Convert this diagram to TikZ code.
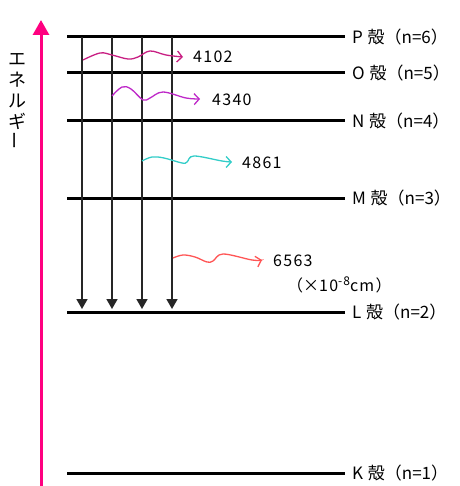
\documentclass[tikz,border=0pt]{standalone}
\usepackage{fontspec}
\setmainfont{Noto Sans CJK JP}
\usetikzlibrary{arrows.meta}
\definecolor{pinkE}{RGB}{255,0,128}
\definecolor{cA}{RGB}{200,30,130}
\definecolor{cB}{RGB}{190,40,200}
\definecolor{cC}{RGB}{50,205,200}
\definecolor{cD}{RGB}{255,85,85}
\begin{document}
\begin{tikzpicture}[x=1pt,y=-1pt,
  level/.style={line width=3pt, black},
  trans/.style={line width=1.7pt, black!85, -{Triangle[width=11pt,length=10pt]}},
  wave/.style={line width=1.3pt, -{Straight Barb[length=5pt,width=11pt]}},
  lbl/.style={anchor=west, font=\fontsize{17}{17}\selectfont, inner sep=0},
  num/.style={anchor=west, font=\fontsize{16}{16}\selectfont\addfontfeatures{LetterSpace=8}, inner sep=0}]
\useasboundingbox (0,0) rectangle (459,486);
% energy axis
\coordinate (eb) at (41,486);
\coordinate (et) at (41,20);
\draw[line width=3pt, pinkE, -{Triangle[width=16pt,length=15pt]}] (eb) -- (et);
\node (ene) at (18,101) [align=center, inner sep=0, font=\fontsize{18}{21}\selectfont] {エ\\ネ\\ル\\ギ\\\rotatebox{90}{ー}};
% levels
\foreach \n/\y/\t in {P/37/{P\;殻（n=6）}, O/73/{O\;殻（n=5）}, N/121/{N\;殻（n=4）}, M/198/{M\;殻（n=3）}, L/312/{L\;殻（n=2）}, K/473/{K\;殻（n=1）}}{
  \coordinate (\n a) at (67,\y);
  \coordinate (\n b) at (345,\y);
  \draw[level] (\n a) -- (\n b);
  \node[lbl] (\n l) at ([xshift=7pt]\n b) {\t};
}
% transitions
\foreach \i/\x in {1/82,2/112,3/142,4/172}{
  \coordinate (t\i a) at (\x,37);
  \coordinate (t\i b) at (\x,309);
  \draw[trans] (t\i a) -- (t\i b);
}
% photons
\draw[wave, cA] plot[smooth, tension=0.6] coordinates {(83,60) (100,53) (112,55) (128,59) (138,57) (150,51) (166,55) (183,57)};
\node[num] (w1) at (193,57) {4102};
\draw[wave, cB] plot[smooth, tension=0.6] coordinates {(112,96) (122,87) (131,89) (143,100) (150,98) (163,92) (186,98) (200,99)};
\node[num] (w2) at (212,100) {4340};
\draw[wave, cC] plot[smooth, tension=0.6] coordinates {(142,161) (152,157) (164,158) (182,163) (187,162) (194,156) (222,161) (232,162)};
\node[num] (w3) at (242,163) {4861};
\draw[wave, cD] plot[smooth, tension=0.6] coordinates {(173,258) (183,255) (195,257) (207,262) (213,261) (223,254) (252,260) (262,260)};
\node[num] (w4) at (273,261) {6563};
\node[anchor=west, inner sep=0, font=\fontsize{16}{16}\selectfont] (unit) at (287,285) {（×\addfontfeatures{LetterSpace=8}10\raisebox{6pt}{\fontsize{12}{12}\selectfont -8}cm）};
\end{tikzpicture}
\end{document}
